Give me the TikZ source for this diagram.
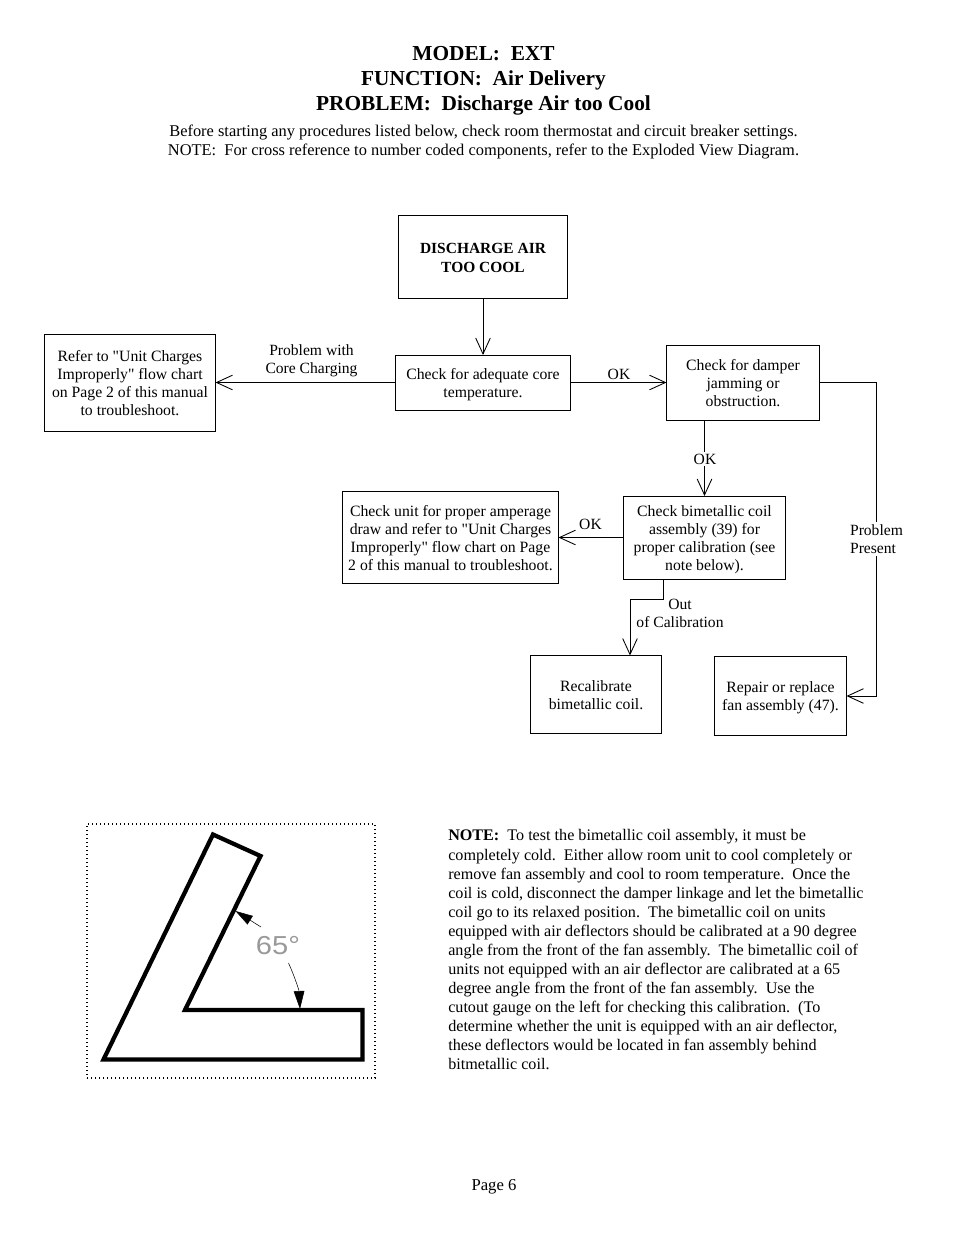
\documentclass[tikz,border=0pt]{standalone}
\usepackage{fontspec}
\setmainfont{Liberation Serif}
\newfontfamily\gaugefont{Liberation Sans}
\newfontfamily\quotefont{Liberation Serif}
\newcommand{\dq}{{\quotefont"}}
\newcommand{\topgap}{\rule{0pt}{9.2pt}}
\usetikzlibrary{arrows.meta}
\tikzset{
  flowbox/.style={draw,line width=0.65pt,outer sep=0pt,inner sep=0pt,align=center,font=\fontsize{11.8}{13.5}\selectfont},
  flowlabel/.style={inner sep=1pt,align=center,font=\fontsize{11.7}{13.5}\selectfont},
  flowline/.style={line width=0.65pt,-{Straight Barb[length=12pt,width=11pt,line width=0.65pt]}},
  titleline/.style={anchor=base,inner sep=0pt,font=\fontsize{16}{18}\selectfont\bfseries},
}
\begin{document}
\begin{tikzpicture}[x=0.75pt,y=-0.75pt]
\useasboundingbox (0,0) rectangle (954,1235);

\node (model) at (483.5,60)[titleline]{MODEL:\ \ EXT};
\node (function) at (483.5,85)[titleline]{FUNCTION:\ \ Air Delivery};
\node (problem) at (483.5,110)[titleline]{PROBLEM:\ \ Discharge Air too Cool};
\node (intro) at (483.5,142)[flowlabel,font=\fontsize{12.3}{14.25}\selectfont]{Before starting any procedures listed below, check room thermostat and circuit breaker settings.\\NOTE:\ \ For cross reference to number coded components, refer to the Exploded View Diagram.};

\node (main) at (483,256.5)[flowbox,minimum width=126.75pt,minimum height=62.25pt,font=\fontsize{11.6}{14.2}\selectfont\bfseries]{\rule{0pt}{10.2pt}DISCHARGE AIR\\TOO COOL};
\node (core) at (483,382.5)[flowbox,minimum width=131.25pt,minimum height=41.25pt]{\rule{0pt}{11pt}Check for adequate core\\temperature.};
\node (refer) at (130,382.5)[flowbox,minimum width=128.25pt,minimum height=72.75pt]{\topgap Refer to \dq Unit Charges\\Improperly\dq\ flow chart\\on Page 2 of this manual\\to troubleshoot.};
\node (damper) at (743,382.5)[flowbox,minimum width=114.75pt,minimum height=56.25pt]{\topgap Check for damper\\jamming or\\obstruction.};
\node (bimetal) at (704.5,537.5)[flowbox,minimum width=121.5pt,minimum height=62.25pt]{\rule{0pt}{11pt}Check bimetallic coil\\assembly (39) for\\proper calibration (see\\note below).};
\node (amperage) at (450.5,537.5)[flowbox,minimum width=162pt,minimum height=69pt]{\topgap Check unit for proper amperage\\draw and refer to \dq Unit Charges\\Improperly\dq\ flow chart on Page\\2 of this manual to troubleshoot.};
\node (recal) at (596,694.5)[flowbox,minimum width=98.25pt,minimum height=58.5pt]{\topgap Recalibrate\\bimetallic coil.};
\node (repair) at (780.5,696)[flowbox,minimum width=99pt,minimum height=59.25pt]{\rule{0pt}{11pt}Repair or replace\\fan assembly (47).};

\coordinate (riser) at (876,500);
\coordinate (bendA) at (663,599);
\coordinate (bendB) at (630,599);

\draw[flowline] (main) -- (core);
\draw[flowline] (core) -- (refer);
\draw[flowline] (core) -- (damper);
\draw[flowline] (damper.south -| bimetal.north) -- (bimetal.north);
\draw[flowline] (bimetal) -- (amperage);
\draw[flowline] (bimetal.south -| bendA) -- (bendA) -- (bendB) -- (bendB |- recal.north);
\draw[flowline] (damper) -- (damper -| riser) -- (repair -| riser) -- (repair);

\node (lblcore) at (311.5,360.5)[flowlabel]{Problem with\\Core Charging};
\node (lblok1) at (619,374)[flowlabel]{OK};
\node (lblok2) at (705,459)[flowlabel,fill=white]{OK};
\node (lblok3) at (590.5,524)[flowlabel]{OK};
\node (lblout) at (680,613)[flowlabel]{Out\\of Calibration};
\node (lblpresent) at (876.5,539)[flowlabel,fill=white,inner sep=2pt,align=left]{Problem\\Present};

\node (gaugeframe) at (231,951)[draw,line width=1pt,dotted,minimum width=216pt,minimum height=190.5pt,outer sep=0pt]{};
\draw[line width=3.2pt,miter limit=10] (103.5,1059.5) -- (213,834.5) -- (260.5,856) -- (185,1010) -- (362.5,1010) -- (362.5,1059.5) -- cycle;

\node (angle) at (278,945.5)[text=black!40,font=\fontsize{19.5}{20}\gaugefont]{\scalebox{1.12}[1]{65°}};
\coordinate (tipA) at (235.5,911);
\coordinate (tipB) at (300,1009);
\coordinate (tailA) at (261,927);
\coordinate (tailB) at (288.5,963);
\draw[line width=0.4pt,-{Triangle[length=13pt,width=7.5pt]}] (tailA) -- (tipA);
\draw[line width=0.4pt,-{Triangle[length=13.5pt,width=8pt]}] (tailB) .. controls (294,975) and (299,990) .. (tipB);

\node (note) at (448,829.5)[anchor=north west,inner sep=0pt,align=left,font=\fontsize{12.1}{14.3}\selectfont]{\textbf{NOTE:}\ \ To test the bimetallic coil assembly, it must be\\completely cold.\ \ Either allow room unit to cool completely or\\remove fan assembly and cool to room temperature.\ \ Once the\\coil is cold, disconnect the damper linkage and let the bimetallic\\coil go to its relaxed position.\ \ The bimetallic coil on units\\equipped with air deflectors should be calibrated at a 90 degree\\angle from the front of the fan assembly.\ \ The bimetallic coil of\\units not equipped with an air deflector are calibrated at a 65\\degree angle from the front of the fan assembly.\ \ Use the\\cutout gauge on the left for checking this calibration.\ \ (To\\determine whether the unit is equipped with an air deflector,\\these deflectors would be located in fan assembly behind\\bitmetallic coil.};

\node (page) at (494,1187)[flowlabel,font=\fontsize{12.5}{14}\selectfont]{Page 6};

\end{tikzpicture}
\end{document}
